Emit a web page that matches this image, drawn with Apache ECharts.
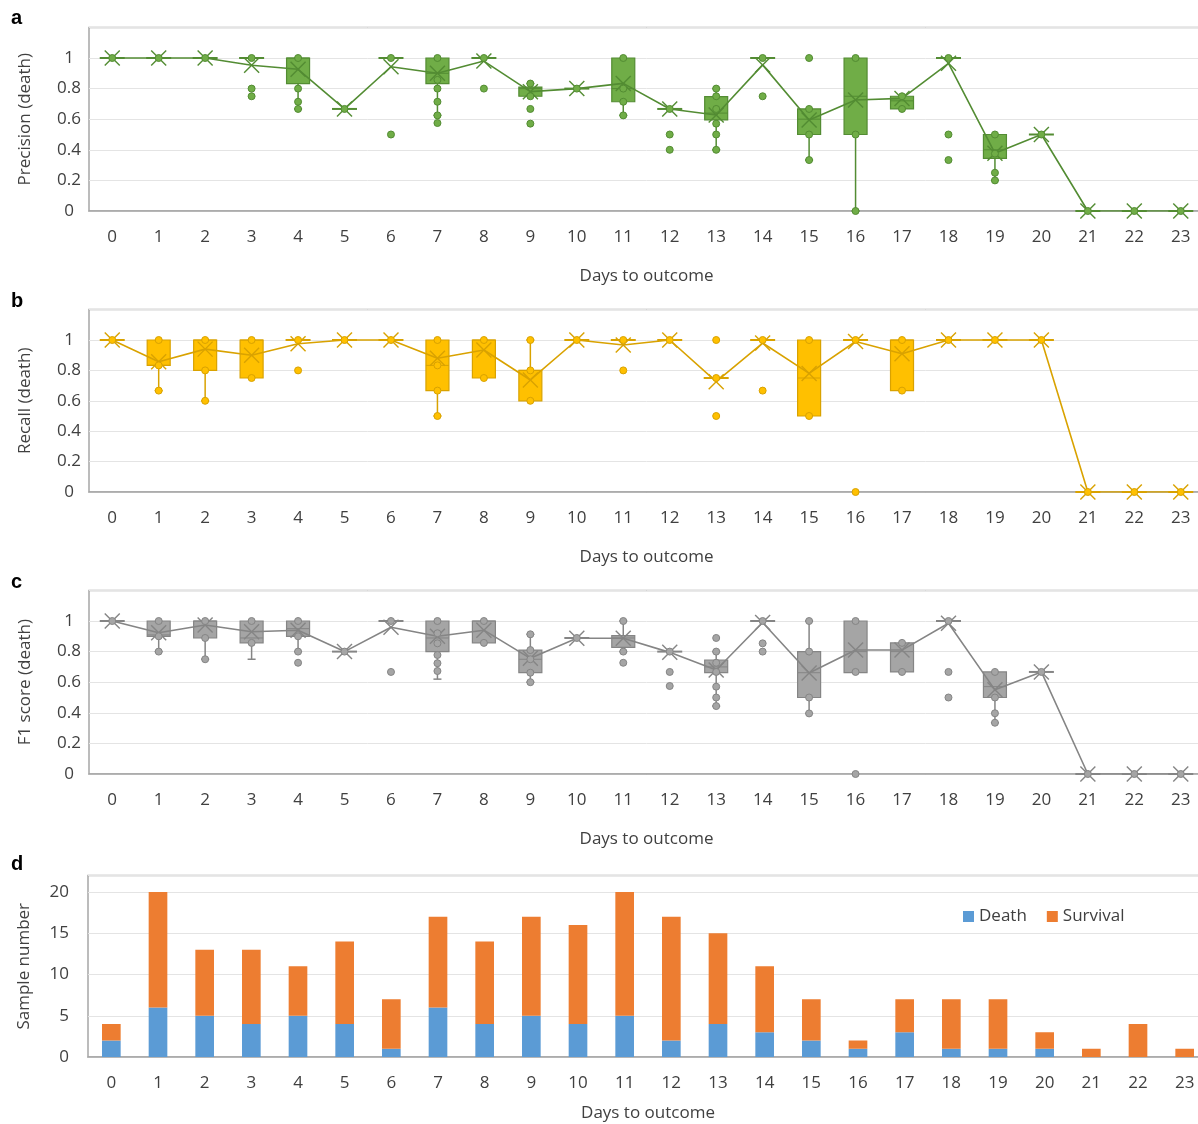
<!DOCTYPE html>
<html>
<head>
<meta charset="utf-8">
<script src="https://cdn.jsdelivr.net/npm/echarts@6/dist/echarts.min.js"></script>
<style>
  html, body { margin: 0; padding: 0; background: #fff; overflow: hidden; }
  #chart { width: 1212px; height: 1124px; }
</style>
</head>
<body>
<div id="chart"></div>
<script>
// Days to outcome (shared category axis of all four panels)
const days = ['0','1','2','3','4','5','6','7','8','9','10','11','12','13','14','15','16','17','18','19','20','21','22','23'];

// Box statistics per day: [lower whisker, Q1, median, Q3, upper whisker]
const precisionStats = [
  [1,1,1,1,1], [1,1,1,1,1], [1,1,1,1,1], [1,1,1,1,1],
  [0.667,0.833,1,1,1], [0.667,0.667,0.667,0.667,0.667], [1,1,1,1,1],
  [0.625,0.833,0.9,1,1], [1,1,1,1,1], [0.75,0.75,0.8,0.81,0.833],
  [0.8,0.8,0.8,0.8,0.8], [0.625,0.714,0.8,1,1], [0.667,0.667,0.667,0.667,0.667],
  [0.4,0.595,0.64,0.747,0.8], [1,1,1,1,1], [0.333,0.5,0.6,0.667,0.667],
  [0,0.5,0.75,1,1], [0.667,0.667,0.72,0.75,0.75], [1,1,1,1,1],
  [0.2,0.344,0.4,0.5,0.5], [0.5,0.5,0.5,0.5,0.5], [0,0,0,0,0], [0,0,0,0,0], [0,0,0,0,0]
];
const precisionMean = [1,1,1,0.953,0.926,0.667,0.943,0.9,0.98,0.78,0.8,0.834,0.667,0.627,0.955,0.595,0.725,0.736,0.965,0.378,0.5,0,0,0];
const precisionPoints = [
  [1], [1], [1], [1,0.8,0.75], [1,0.8,0.714,0.667], [0.667], [1,0.5],
  [1,0.857,0.8,0.714,0.625,0.575], [1,0.8], [0.833,0.75,0.667,0.571], [0.8],
  [1,0.8,0.714,0.625], [0.667,0.5,0.4], [0.8,0.75,0.667,0.571,0.5,0.4], [1,0.75],
  [1,0.667,0.5,0.333], [1,0.5,0], [0.75,0.667], [1,0.5,0.333], [0.5,0.375,0.25,0.2],
  [0.5], [0], [0], [0]
];

const recallStats = [
  [1,1,1,1,1], [0.667,0.833,0.833,1,1], [0.6,0.8,1,1,1], [0.75,0.75,1,1,1],
  [1,1,1,1,1], [1,1,1,1,1], [1,1,1,1,1], [0.5,0.667,0.833,1,1],
  [0.75,0.75,1,1,1], [0.6,0.6,0.8,0.8,1], [1,1,1,1,1], [1,1,1,1,1],
  [1,1,1,1,1], [0.75,0.75,0.75,0.75,0.75], [1,1,1,1,1], [0.5,0.5,0.75,1,1],
  [1,1,1,1,1], [0.667,0.667,1,1,1], [1,1,1,1,1], [1,1,1,1,1],
  [1,1,1,1,1], [0,0,0,0,0], [0,0,0,0,0], [0,0,0,0,0]
];
const recallMean = [1,0.857,0.94,0.9,0.975,1,1,0.88,0.934,0.737,1,0.967,1,0.726,0.98,0.78,0.99,0.91,1,1,1,0,0,0];
const recallPoints = [
  [1], [1,0.833,0.667], [1,0.8,0.6], [1,0.75], [1,0.8], [1], [1],
  [1,0.833,0.667,0.5], [1,0.75], [1,0.8,0.6], [1], [1,0.8], [1],
  [1,0.75,0.5], [1,0.667], [1,0.5], [1,0], [1,0.667], [1], [1], [1], [0], [0], [0]
];

const f1Stats = [
  [1,1,1,1,1], [0.8,0.9,0.909,1,1], [0.75,0.889,1,1,1], [0.75,0.857,0.889,1,1],
  [0.8,0.9,0.95,1,1], [0.8,0.8,0.8,0.8,0.8], [1,1,1,1,1], [0.62,0.8,0.889,1,1],
  [0.857,0.857,1,1,1], [0.6,0.662,0.75,0.81,0.913], [0.889,0.889,0.889,0.889,0.889],
  [0.8,0.828,0.889,0.904,1], [0.8,0.8,0.8,0.8,0.8], [0.444,0.662,0.7,0.745,0.8],
  [1,1,1,1,1], [0.396,0.5,0.662,0.8,1], [0.667,0.662,0.8,1,1],
  [0.667,0.667,0.8,0.857,0.857], [1,1,1,1,1], [0.335,0.5,0.571,0.667,0.667],
  [0.667,0.667,0.667,0.667,0.667], [0,0,0,0,0], [0,0,0,0,0], [0,0,0,0,0]
];
const f1Mean = [1,0.923,0.974,0.93,0.94,0.8,0.959,0.9,0.94,0.756,0.887,0.887,0.795,0.68,0.99,0.66,0.81,0.81,0.985,0.55,0.667,0,0,0];
const f1Points = [
  [1], [1,0.9,0.8], [1,0.889,0.75], [1,0.857], [1,0.9,0.8,0.727], [0.8], [1,0.667],
  [1,0.92,0.854,0.778,0.724,0.673], [1,0.857], [0.913,0.81,0.75,0.662,0.6], [0.889],
  [1,0.8,0.727], [0.8,0.667,0.575], [0.889,0.8,0.727,0.667,0.571,0.5,0.444],
  [1,0.854,0.8], [1,0.8,0.5,0.396], [1,0.667,0], [0.857,0.667], [1,0.667,0.5],
  [0.667,0.5,0.397,0.335], [0.667], [0], [0], [0]
];

// Sample counts per day
const deathCounts    = [2,6,5,4,5,4,1,6,4,5,4,5,2,4,3,2,1,3,1,1,1,0,0,0];
const survivalCounts = [2,14,8,9,6,10,6,11,10,12,12,15,15,11,8,5,1,4,6,6,2,1,4,1];

const FONT = "'Open Sans', 'Noto Sans', sans-serif";
const TEXT = '#404040';
const FS = 17;

const panels = [
  { title: 'Precision (death)', stats: precisionStats, mean: precisionMean, points: precisionPoints,
    fill: '#70AD47', stroke: '#538C33', top: 27.4, height: 183.6 },
  { title: 'Recall (death)', stats: recallStats, mean: recallMean, points: recallPoints,
    fill: '#FFC000', stroke: '#D9A200', top: 309.6, height: 182.4 },
  { title: 'F1 score (death)', stats: f1Stats, mean: f1Mean, points: f1Points,
    fill: '#A5A5A5', stroke: '#858585', top: 590.4, height: 183.6 }
];

function boxRenderer(fill, stroke) {
  return function (params, api) {
    const i = api.value(0);
    const lo = api.value(1), q1 = api.value(2), med = api.value(3), q3 = api.value(4), hi = api.value(5);
    const cx = api.coord([i, q1])[0];
    const y = v => api.coord([i, v])[1];
    const half = 11.5, cap = 4;
    const seg = (x1, y1, x2, y2, w) => ({
      type: 'line', shape: { x1, y1, x2, y2 }, style: { stroke, lineWidth: w || 1.5 }
    });
    const children = [];
    if (hi > q3) {
      children.push(seg(cx, y(q3), cx, y(hi)));
      children.push(seg(cx - cap, y(hi), cx + cap, y(hi)));
    }
    if (lo < q1) {
      children.push(seg(cx, y(q1), cx, y(lo)));
      children.push(seg(cx - cap, y(lo), cx + cap, y(lo)));
    }
    if (q3 - q1 > 1e-6) {
      children.push({
        type: 'rect',
        shape: { x: cx - half, y: y(q3), width: 2 * half, height: y(q1) - y(q3) },
        style: { fill, stroke, lineWidth: 1.2 }
      });
      children.push(seg(cx - half, y(med), cx + half, y(med), 1));
    } else {
      children.push(seg(cx - half - 1, y(q1), cx + half + 1, y(q1), 2));
    }
    return { type: 'group', children };
  };
}

function crossRenderer(stroke) {
  return function (params, api) {
    const p = api.coord([api.value(0), api.value(1)]);
    const s = 7.5;
    const st = { stroke, lineWidth: 1.4 };
    return {
      type: 'group',
      children: [
        { type: 'line', shape: { x1: p[0] - s, y1: p[1] - s, x2: p[0] + s, y2: p[1] + s }, style: st },
        { type: 'line', shape: { x1: p[0] - s, y1: p[1] + s, x2: p[0] + s, y2: p[1] - s }, style: st }
      ]
    };
  };
}

const grids = [], xAxes = [], yAxes = [], series = [];

function addAxes(g, left, width, top, height, nameGapX, yOpts) {
  grids.push({ left, width, top, height, show: true,
    borderColor: '#A6A6A6', borderWidth: 1.5, backgroundColor: '#fff' });
  xAxes.push({
    type: 'category', gridIndex: g, data: days, boundaryGap: true,
    axisTick: { show: false },
    axisLine: { lineStyle: { color: '#A6A6A6', width: 1.5 } },
    axisLabel: { interval: 0, fontSize: FS, color: TEXT, fontFamily: FONT, margin: 18 },
    name: 'Days to outcome', nameLocation: 'middle', nameGap: nameGapX,
    nameTextStyle: { fontSize: FS, color: TEXT, fontFamily: FONT }
  });
  yAxes.push(Object.assign({
    type: 'value', gridIndex: g, min: 0,
    axisLine: { show: false }, axisTick: { show: false },
    splitLine: { lineStyle: { color: '#E4E4E4', width: 1 } },
    nameLocation: 'middle', nameGap: 55,
    nameTextStyle: { fontSize: FS, color: TEXT, fontFamily: FONT }
  }, yOpts));
}

panels.forEach((p, g) => {
  addAxes(g, 89, 1115, p.top, p.height, 57, {
    max: 1.2, interval: 0.2, name: p.title,
    axisLabel: {
      fontSize: FS, color: TEXT, fontFamily: FONT, margin: 20, align: 'center',
      formatter: v => (Math.abs(v - 1.2) < 1e-6 ? '' : String(+v.toFixed(1)))
    }
  });
  series.push({
    type: 'custom', xAxisIndex: g, yAxisIndex: g, z: 2, silent: true,
    data: p.stats.map((s, i) => [i].concat(s)),
    encode: { x: 0, y: [1, 2, 3, 4, 5] },
    renderItem: boxRenderer(p.fill, p.stroke)
  });
  series.push({
    type: 'line', xAxisIndex: g, yAxisIndex: g, z: 3, silent: true,
    data: p.mean, symbol: 'none',
    lineStyle: { color: p.stroke, width: 1.6 }
  });
  series.push({
    type: 'custom', xAxisIndex: g, yAxisIndex: g, z: 4, silent: true,
    data: p.mean.map((m, i) => [i, m]),
    encode: { x: 0, y: 1 },
    renderItem: crossRenderer(p.stroke)
  });
  const pts = [];
  p.points.forEach((arr, i) => arr.forEach(v => pts.push([i, v])));
  series.push({
    type: 'scatter', xAxisIndex: g, yAxisIndex: g, z: 5, silent: true,
    data: pts, symbol: 'circle', symbolSize: 7,
    itemStyle: { color: p.fill, borderColor: p.stroke, borderWidth: 1, opacity: 1 }
  });
});

// Panel d: stacked sample counts
addAxes(3, 88, 1120, 875.5, 181.5, 48, {
  max: 22, interval: 5, name: 'Sample number',
  axisLabel: {
    fontSize: FS, color: TEXT, fontFamily: FONT, margin: 19, align: 'right',
    formatter: v => (v > 20 ? '' : String(v))
  }
});
series.push({
  name: 'Death', type: 'bar', stack: 'n', xAxisIndex: 3, yAxisIndex: 3,
  data: deathCounts, barWidth: '40%', itemStyle: { color: '#5B9BD5' }
});
series.push({
  name: 'Survival', type: 'bar', stack: 'n', xAxisIndex: 3, yAxisIndex: 3,
  data: survivalCounts, barWidth: '40%', itemStyle: { color: '#ED7D31' }
});

const panelLetters = [['a', 8], ['b', 291], ['c', 572], ['d', 854]];

const chart = echarts.init(document.getElementById('chart'), null, { renderer: 'canvas' });
chart.setOption({
  backgroundColor: '#ffffff',
  animation: false,
  textStyle: { fontFamily: FONT },
  grid: grids,
  xAxis: xAxes,
  yAxis: yAxes,
  legend: {
    data: ['Death', 'Survival'], left: 958, top: 903,
    icon: 'rect', itemWidth: 11, itemHeight: 11, itemGap: 20,
    textStyle: { fontSize: FS, color: TEXT, fontFamily: FONT }
  },
  graphic: panelLetters.map(([t, top]) => ({
    type: 'text', left: 11, top,
    style: { text: t, font: "bold 20px 'Liberation Sans', Arial, sans-serif", fill: '#000' }
  })),
  series
});
</script>
</body>
</html>
